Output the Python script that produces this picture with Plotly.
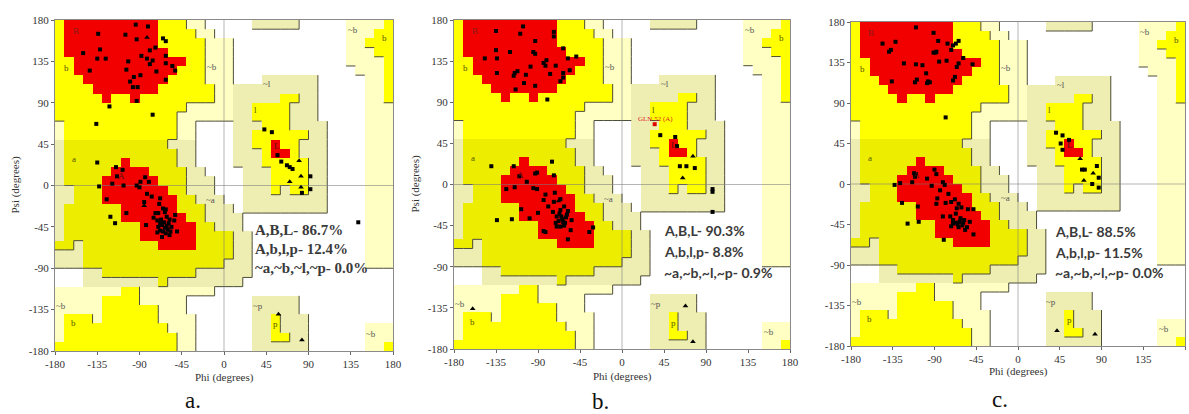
import plotly.graph_objects as go

W, H = 1189, 414

# ---------------- region map (PROCHECK style), 10-degree cells ----------------
# rows: psi 180->-180 (top to bottom), cols: phi -180->180
# '.' disallowed, 'p' generous, 't' generous (shaded), 'y' allowed, 'd' allowed (shaded), 'R' core
REGION_ROWS = [
    "y" + "R"*10 + "yyy" + "pp" + "."*5 + "t"*5 + "."*5 + "pppp" + "y",
    "y" + "R"*10 + "yyyy" + "pp" + "."*14 + "ppp" + "yy",
    "y" + "R"*10 + "yyyyy" + "ppp" + "."*12 + "pp" + "yyy",
    "y" + "R"*11 + "yyyy" + "ppp" + "."*12 + "ppp" + "yy",
    "yy" + "R"*12 + "yy" + "ppp" + "."*12 + "pppp" + "y",
    "yy" + "R"*11 + "yyy" + "ppp" + "."*13 + "ppp" + "y",
    "yyy" + "R"*9 + "yyyy" + "ppp" + "..." + "t"*6 + "."*5 + "pp" + "y",
    "yyyy" + "R"*7 + "y"*6 + "pp" + "t"*9 + "."*5 + "pp" + "y",
    "y"*5 + "R" + "yy" + "R" + "y"*8 + "pp" + "t"*5 + "yy" + "tt" + "."*5 + "pp" + "y",
    "y"*14 + "p"*5 + "tt" + "yyyy" + "ttt" + "."*5 + "ppp",
    "y"*13 + "p"*6 + "tt" + "yyyy" + "ttt" + "."*5 + "ppp",
    "p" + "y"*12 + "pp" + "...." + "ttt" + "yyy" + "tttt" + "...." + "ppp",
    "p" + "y"*12 + "pp" + "...." + "tt" + "y"*6 + "tt" + "...." + "ppp",
    "t" + "d"*11 + "ttt" + "...." + "tt" + "yy" + "R" + "yy" + "ttt" + "...." + "ppp",
    "t" + "d"*12 + "tt" + "...." + "ttt" + "y" + "RR" + "y" + "ttt" + "...." + "ppp",
    "t" + "d"*6 + "R" + "d"*5 + "tt" + "...." + "ttt" + "y"*5 + "tt" + "...." + "ppp",
    "t" + "d"*5 + "RRRR" + "dddd" + "tt" + "...." + "ttt" + "yyyy" + "tt" + "...." + "ppp",
    "t" + "dddd" + "R"*6 + "ddd" + "ttt" + "..." + "ttt" + "yyyy" + "tt" + "...." + "ppp",
    "tt" + "ddd" + "R"*7 + "dd" + "ttt" + "..." + "ttt" + "y" + "t" + "yy" + "tt" + "...." + "ppp",
    "tt" + "ddd" + "R"*8 + "dd" + "ttt" + ".." + "t"*9 + "...." + "ppp",
    "t" + "d"*6 + "R"*6 + "ddd" + "ttt" + "." + "t"*9 + "...." + "ppp",
    "t" + "d"*6 + "R"*7 + "dd" + "tttt" + "."*13 + "ppp",
    "t" + "d"*8 + "R"*6 + "dd" + "ttt" + "."*13 + "ppp",
    "t" + "d"*8 + "R"*6 + "dddd" + "tt" + "."*12 + "ppp",
    "dd" + "t" + "d"*8 + "RRRR" + "dddd" + "tt" + "."*12 + "ppp",
    "ttt" + "d"*16 + "tt" + "."*12 + "ppp",
    "ttt" + "d"*15 + "ttt" + "."*12 + "ppp",
    "..." + "tt" + "d"*10 + "t"*6 + "."*15,
    "..." + "t"*8 + "d" + "t"*8 + "."*16,
    "p"*7 + "yy" + "p"*8 + "."*19,
    "p"*5 + "yyyy" + "p"*5 + "."*7 + "t"*5 + "."*10,
    "p"*5 + "y"*6 + "ppp" + "."*7 + "t"*5 + "."*10,
    "p" + "yyy" + "p" + "y"*6 + "pppp" + "."*6 + "tt" + "y" + "ttt" + "."*9,
    "p" + "y"*11 + "ppp" + "."*6 + "tt" + "y" + "ttt" + "."*6 + "ppp",
    "p" + "y"*12 + "pp" + "."*6 + "tt" + "yy" + "tt" + "."*6 + "ppp",
    "y"*13 + "pp" + "."*6 + "t"*6 + "."*6 + "pp" + "y",
]
REGION_CODES = [".", "p", "t", "y", "d", "R"]
REGION_COLORS = ["#FFFFFF", "#FFFFC4", "#EEEDB2", "#FFFF00", "#EDED00", "#F20000"]
SHADOW_LEVEL = {".": 0, "p": 1, "t": 1, "y": 2, "d": 2, "R": 2}

PHI_CENTERS = [-175 + 10 * i for i in range(36)]
PSI_CENTERS = [175 - 10 * i for i in range(36)]
TICKS = [-180, -135, -90, -45, 0, 45, 90, 135, 180]

# region letters: (phi, psi, text, color)
REGION_LABELS = [
    (-158, 168, "B", "#8a1a1a"), (-168, 128, "b", "#555500"), (-160, 29, "a", "#555500"),
    (-109, 10, "A", "#5a1010"), (56, 43, "L", "#5a1010"), (34, 82, "l", "#555500"),
    (-13, 129, "~b", "#555555"), (-14, -16, "~a", "#555555"), (46, 110, "~l", "#555555"),
    (36, -131, "~p", "#555555"), (55, -151, "p", "#555500"), (-174, -131, "~b", "#555555"),
    (-160, -150, "b", "#555500"), (137, 169, "~b", "#555555"), (171, 160, "b", "#555500"),
    (157, -161, "~b", "#555555"),
]

# ---------------- residues, panel a ----------------
A_PHI = [-94, -81, -134, -105, -93, -65, -62, -73, -79, -132, -150, -135, -126, -88, -82, -76, -62, -102,
         -79, -62, -55, -52, -143, -104, -72, -89, -96, -100, -62, -97, -92, -93, -122, -76, -136,
         -135, -133, -115, -108, -114, -119, -107, -93, -89, -84, -80, -90, -82, -77, -85, -68, -69, -65,
         -62, -125, -121, -116, -104, -83, -73, -71, -70, -68, -64, -61, -59, -56, -53, -52, -62, -58, -66,
         -50, -75, -71, -57, -60, -67, -63, -66, -63, -68, -61, -65, -58, -70,
         43, 51, 57, 61, 67, 70, 73, 92, 83, 92, 143]
A_PSI = [175, 173, 165, 164, 159, 160, 157, 150, 147, 148, 144, 138, 138, 141, 138, 136, 141, 135,
         132, 133, 130, 125, 125, 126, 124, 120, 118, 113, 115, 107, 107, 92, 86, 77, 67,
         25, -1, 20, 17, 10, 2, 0, 0, 4, 9, 4, -2, -9, -12, -18, -14, -20, -25,
         -26, -15, -34, -41, -30, -43, -30, -38, -45, -49, -40, -34, -41, -45, -38, -32, -52, -54, -56,
         -50, -35, -51, -50, -48, -37, -29, -43, -46, -41, -44, -50, -37, -30,
         61, 58, 33, 26, 22, 20, 18, 10, -8, -4, -40]
A_GLY_PHI = [-82, -85, 80, 82, 70, 82, 58, 83]
A_GLY_PSI = [161, -22, 27, 10, 4, -2, -140, -168]

# ---------------- residues, panel b ----------------
B_PHI = [-135, -106, -109, -73, -73, -93, -135, -134, -147, -120, -95, -93, -63, -49, -58, -81, -84, -82,
         -98, -71, -56, -63, -63, -66, -77, -112, -115, -116, -103, -134, -93, -105, -114, -80,
         -140, -116, -75, -73, -93, -91, -110, -102, -115, -124, -95, -91, -82, -72, -84, -79, -73, -66,
         -74, -66, -62, -58, -70, -65, -59, -54, -71, -66, -61, -55, -58, -84, -82, -90, -99, -108,
         -134, -118, -35, -31, -64, -68, -62, -60, -67, -70, -63,
         41, 57, 59, 62, 69, 78, 97, 97, 97]
B_PSI = [168, 173, 165, 167, 162, 157, 147, 138, 138, 145, 145, 143, 149, 140, 138, 136, 133, 130,
         129, 130, 125, 122, 117, 113, 121, 124, 122, 119, 120, 122, 108, 111, 104, 93,
         20, 20, 25, 10, 12, 13, 9, 3, -3, -5, -4, -5, -11, -9, -17, -24, -19, -16,
         -30, -28, -24, -29, -35, -35, -33, -39, -42, -46, -42, -50, -60, -51, -52, -31, -37, -27,
         -39, -38, -52, -47, -38, -40, -45, -36, -32, -46, -41,
         54, 52, 42, 20, 20, 18, -5, -8, -30]
B_GLY_PHI = [-68, 76, 65, 68, 76, -160]
B_GLY_PSI = [-18, 31, 7, -133, -172, -136]
B_SPECIAL_PHI = [35]
B_SPECIAL_PSI = [66]
B_SPECIAL_LABEL = ["GLN 52 (A)"]

# ---------------- residues, panel c ----------------
C_PHI = [-110, -91, -146, -132, -137, -139, -86, -88, -76, -70, -67, -64, -72, -91, -89, -123, -110, -103,
         -85, -77, -59, -64, -66, -49, -99, -68, -70, -136, -111, -109, -97, -98, -95, -78,
         -133, -127, -112, -110, -111, -114, -90, -88, -98, -93, -81, -79, -84, -87, -88, -75, -78, -72,
         -68, -64, -61, -66, -54, -48, -67, -81, -73, -70, -63, -59, -52, -65, -55, -72, -57, -48, -80,
         -107, -108, -119, -125, -62, -60, -67, -64, -70, -58,
         41, 48, 46, 48, 55, 69, 72, 85, 80, 87, 87]
C_PSI = [174, 168, 156, 158, 149, 147, 159, 147, 156, 154, 156, 159, 149, 146, 146, 134, 133, 132,
         136, 137, 140, 134, 130, 133, 123, 119, 115, 114, 113, 116, 114, 112, 113, 74,
         -1, 1, 12, 11, 8, 2, 16, 11, 6, -2, 2, -1, -7, -16, -22, -11, -21, -20,
         -17, -22, -26, -27, -28, -28, -33, -36, -36, -40, -42, -43, -42, -45, -48, -47, -51, -56, -62,
         -42, -25, -44, -21, -38, -46, -43, -48, -44, -40,
         57, 54, 45, 38, 49, 16, 16, 20, 0, 7, -4]
C_GLY_PHI = [67, 81, 71, 42, 83]
C_GLY_PSI = [28, 12, 4, -163, -167]

STATS = {
    "a": ["A,B,L- 86.7%", "A,b,l,p- 12.4%", "~a,~b,~l,~p- 0.0%"],
    "b": ["A,B,L- 90.3%", "A,b,l,p- 8.8%", "~a,~b,~l,~p- 0.9%"],
    "c": ["A,B,L- 88.5%", "A,b,l,p- 11.5%", "~a,~b,~l,~p- 0.0%"],
}

# ---------------- layout geometry (pixels) ----------------
PANELS = [
    dict(key="a", left=55, right=393, top=20, bottom=351, phi=A_PHI, psi=A_PSI, gphi=A_GLY_PHI, gpsi=A_GLY_PSI,
         text_x=253, text_y=[230, 249, 268], text_font="Liberation Serif", text_size=15,
         sub_x=193, sub_y=400, xt_y=377, yt_x=15, show_ylabel=True),
    dict(key="b", left=454, right=790, top=20, bottom=349, phi=B_PHI, psi=B_PSI, gphi=B_GLY_PHI, gpsi=B_GLY_PSI,
         text_x=662, text_y=[230, 251, 272], text_font="Lato", text_size=14,
         sub_x=600, sub_y=401, xt_y=376, yt_x=415, show_ylabel=True),
    dict(key="c", left=851, right=1185, top=22, bottom=346, phi=C_PHI, psi=C_PSI, gphi=C_GLY_PHI, gpsi=C_GLY_PSI,
         text_x=1053, text_y=[231, 252, 272], text_font="Lato", text_size=14,
         sub_x=1000, sub_y=399, xt_y=371, yt_x=None, show_ylabel=False),
]

z = [[REGION_CODES.index(ch) for ch in row] for row in REGION_ROWS]
n = len(REGION_CODES)
colorscale = []
for i, col in enumerate(REGION_COLORS):
    colorscale.append([i / n, col])
    colorscale.append([(i + 1) / n, col])


def shadow_segments():
    xs, ys = [], []
    for r in range(36):
        for c in range(36):
            lv = SHADOW_LEVEL[REGION_ROWS[r][c]]
            x0 = -180 + 10 * c
            x1 = x0 + 10
            ytop = 180 - 10 * r
            ybot = ytop - 10
            if r < 35 and lv > SHADOW_LEVEL[REGION_ROWS[r + 1][c]]:
                xs += [x0, x1, None]
                ys += [ybot, ybot, None]
            if c < 35 and lv > SHADOW_LEVEL[REGION_ROWS[r][c + 1]]:
                xs += [x1, x1, None]
                ys += [ytop, ybot, None]
    return xs, ys


SX, SY = shadow_segments()

fig = go.Figure()
annotations = []
layout_axes = {}


def paper_note(x_px, y_px, text, font, **kw):
    d = dict(x=x_px / W, y=1 - y_px / H, xref="paper", yref="paper", xanchor="center", yanchor="middle",
             text=text, showarrow=False, font=font)
    d.update(kw)
    return d


for idx, p in enumerate(PANELS):
    sfx = "" if idx == 0 else str(idx + 1)
    xa, ya = "x" + sfx, "y" + sfx
    fig.add_trace(go.Heatmap(x=PHI_CENTERS, y=PSI_CENTERS, z=z, colorscale=colorscale, zmin=-0.5, zmax=n - 0.5,
                             showscale=False, hoverinfo="skip", xaxis=xa, yaxis=ya))
    fig.add_trace(go.Scatter(x=SX, y=SY, mode="lines", line=dict(color="#4d4d3a", width=1),
                             hoverinfo="skip", showlegend=False, xaxis=xa, yaxis=ya))
    fig.add_trace(go.Scatter(x=[-180, 180, None, 0, 0], y=[0, 0, None, -180, 180], mode="lines",
                             line=dict(color="rgba(120,120,120,0.55)", width=1),
                             hoverinfo="skip", showlegend=False, xaxis=xa, yaxis=ya))
    fig.add_trace(go.Scatter(x=p["phi"], y=p["psi"], mode="markers",
                             marker=dict(symbol="square", size=4, color="black"),
                             showlegend=False, xaxis=xa, yaxis=ya))
    fig.add_trace(go.Scatter(x=p["gphi"], y=p["gpsi"], mode="markers",
                             marker=dict(symbol="triangle-up", size=5, color="black"),
                             showlegend=False, xaxis=xa, yaxis=ya))
    if p["key"] == "b":
        fig.add_trace(go.Scatter(x=B_SPECIAL_PHI, y=B_SPECIAL_PSI, mode="markers",
                                 marker=dict(symbol="square", size=4, color="#e00000"),
                                 showlegend=False, xaxis=xa, yaxis=ya))
        annotations.append(dict(x=B_SPECIAL_PHI[0] + 1, y=B_SPECIAL_PSI[0] + 6, xref=xa, yref=ya,
                                text=B_SPECIAL_LABEL[0], showarrow=False,
                                font=dict(family="Liberation Serif", size=7, color="#e02020")))

    axis_common = dict(range=[-180, 180], tickvals=TICKS, ticktext=[str(t) for t in TICKS],
                       showgrid=False, zeroline=False, showline=True, mirror=True, automargin=False,
                       linecolor="#8a8a8a", linewidth=1, ticks="outside", ticklen=3, tickcolor="#666",
                       tickfont=dict(family="Liberation Serif", size=11, color="#333"), fixedrange=True)
    xdom = [p["left"] / W, p["right"] / W]
    ydom = [1 - p["bottom"] / H, 1 - p["top"] / H]
    layout_axes["xaxis" + sfx] = dict(axis_common, domain=xdom, anchor=ya)
    layout_axes["yaxis" + sfx] = dict(axis_common, domain=ydom, anchor=xa)

    for (lphi, lpsi, txt, col) in REGION_LABELS:
        annotations.append(dict(x=lphi, y=lpsi, xref=xa, yref=ya, text=txt, showarrow=False,
                                font=dict(family="Liberation Serif", size=9, color=col)))

    for line, ty in zip(STATS[p["key"]], p["text_y"]):
        annotations.append(paper_note(p["text_x"], ty, "<b>" + line + "</b>",
                                      dict(family=p["text_font"], size=p["text_size"], color="#3a3a3a"),
                                      xanchor="left"))
    cx = (p["left"] + p["right"]) / 2
    annotations.append(paper_note(cx, p["xt_y"], "Phi (degrees)",
                                  dict(family="Liberation Serif", size=11, color="#333")))
    if p["show_ylabel"]:
        cy = (p["top"] + p["bottom"]) / 2
        annotations.append(paper_note(p["yt_x"], cy, "Psi (degrees)",
                                      dict(family="Liberation Serif", size=11, color="#333"), textangle=-90))
    annotations.append(paper_note(p["sub_x"], p["sub_y"], p["key"] + ".",
                                  dict(family="Liberation Serif", size=23, color="#111")))

fig.update_layout(width=W, height=H, autosize=False, margin=dict(l=0, r=0, t=0, b=0),
                  paper_bgcolor="white", plot_bgcolor="white", showlegend=False,
                  annotations=annotations, **layout_axes)

fig.write_html("out.html", config={"displayModeBar": False},
               post_script="document.body.style.margin='0px';document.body.style.overflow='hidden';")
